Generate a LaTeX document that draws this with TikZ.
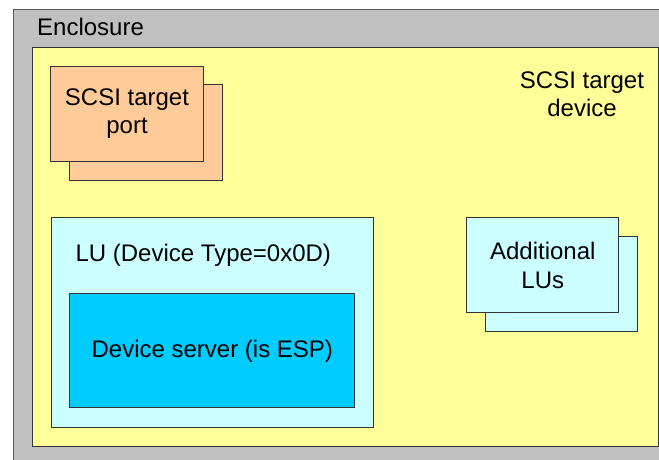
\documentclass[tikz,border=0pt]{standalone}
\usepackage{fontspec}
\setmainfont{Liberation Sans}
\definecolor{encgray}{HTML}{C0C0C0}
\definecolor{devyellow}{HTML}{FFFF99}
\definecolor{portorange}{HTML}{FFCC99}
\definecolor{lucyan}{HTML}{CCFFFF}
\definecolor{srvcyan}{HTML}{00CCFF}
\definecolor{edge}{HTML}{333333}
\tikzset{
  box/.style={draw=edge, line width=1pt, rectangle, anchor=north west, inner sep=0pt, align=center, font=\fontsize{24}{28.5}\selectfont},
  lbl/.style={inner sep=0pt, align=center, font=\fontsize{24}{28.5}\selectfont}
}
\begin{document}
\begin{tikzpicture}[x=1pt, y=-1pt]
\useasboundingbox (0,0) rectangle (659,460);
\begin{scope}
\clip (0,0) rectangle (659,460);
\node[box, draw=gray!70!black, fill=encgray, minimum width=680pt, minimum height=480pt] (encl) at (12.5,9) {};
\node[box, fill=devyellow, minimum width=626pt, minimum height=399pt] (dev) at (31.7,46.7) {};
\end{scope}
\node[lbl, anchor=west] (encltxt) at (37,27) {Enclosure};
\node[lbl] (devtxt) at (582,94) {SCSI target\\device};
% target port
\node[box, fill=portorange, minimum width=152.4pt, minimum height=95.7pt] (portback) at (69.3,84.3) {};
\node[box, fill=portorange, minimum width=152.4pt, minimum height=95pt] (port) at (50.3,65.7) {SCSI target\\port};
% LU
\node[box, fill=lucyan, minimum width=322.6pt, minimum height=209.4pt] (lu) at (50.7,217.3) {};
\node[lbl] (lutxt) at (203.3,255) {LU (Device Type=0x0D)};
\node[box, fill=srvcyan, minimum width=285pt, minimum height=114pt] (srv) at (69.3,293.3) {Device server (is ESP)};
% additional LUs
\node[box, fill=lucyan, minimum width=152.3pt, minimum height=95.3pt] (addback) at (485,236) {};
\node[box, fill=lucyan, minimum width=152pt, minimum height=95pt] (add) at (466.3,217.3) {Additional\\LUs};
\end{tikzpicture}
\end{document}
